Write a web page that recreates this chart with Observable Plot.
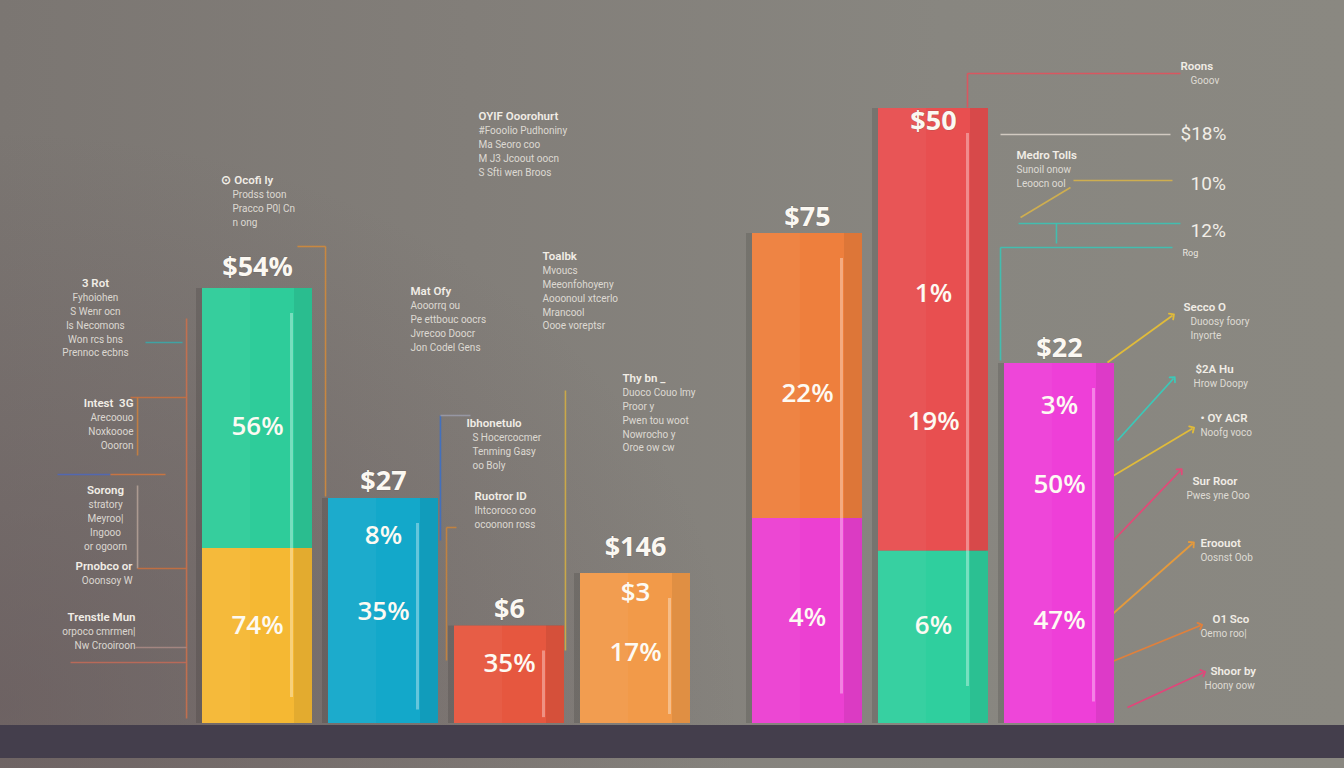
<!DOCTYPE html>
<html>
<head>
<meta charset="utf-8">
<script src="https://cdn.jsdelivr.net/npm/d3@7"></script>
<script src="https://cdn.jsdelivr.net/npm/@observablehq/plot@0.6"></script>
<style>
html, body { margin: 0; padding: 0; width: 1344px; height: 768px; overflow: hidden; }
body {
  background:
    radial-gradient(ellipse 55% 75% at 0% 92%, rgba(98,82,86,0.55), rgba(98,82,86,0) 100%),
    linear-gradient(to right, #7b7672 0%, #827e79 35%, #888680 70%, #8a8881 100%);
}
#chart svg { display: block; }
</style>
</head>
<body>
<div id="chart"></div>
<script>
// ---------- data ----------
const categories  = ["Q1", "Q2", "Q3", "Q4", "Q5", "Q6", "Q7"];
const groups      = ["A", "A", "A", "A", "B", "B", "B"];
const lowerValues = [35, 45, 19.5, 30, 41, 34.5, 72];
const upperValues = [52, 0, 0, 0, 57, 88.5, 0];
const topLabels   = ["$54%", "$27", "$6", "$146", "$75", "$50", "$22"];
const innerLabels = [["56%", "74%"], ["8%", "35%"], ["35%"], ["$3", "17%"], ["22%", "4%"], ["1%", "19%", "6%"], ["3%", "50%", "47%"]];

// ---------- layout / style (kept apart from the data) ----------
const groupGap = 0.365;
const lowerColors = ["#f5b833", "#13a8ca", "#e6573f", "#f29a49", "#ec40d2", "#2fcf9e", "#ee3fd8"];
const upperColors = ["#2ecc9a", null, null, null, "#ee7f3d", "#e84f50", null];
const topLabelAt   = [91.2, 48.4, 22.8, 35.2, 101.2, 120.4, 75];
const innerLabelAt = [[59.4, 19.6], [37.6, 22.4], [12], [26.2, 14.2], [66, 21.2], [86, 60.4, 19.6], [63.6, 47.8, 20.6]];

const notes = [
  {x: 0.214, bx: 0.302, y: 108.6, anchor: "start", title: "\u2299 Ocofi ly", body: ["Prodss toon", "Pracco P0| Cn", "n ong"]},
  {x: -0.786, y: 88, anchor: "middle", title: "3 Rot", body: ["Fyhoiohen", "S Wenr ocn", "ls Necomons", "Won rcs bns", "Prennoc ecbns"]},
  {x: -0.484, y: 64, anchor: "end", title: "Intest  3G", body: ["Arecoouo", "Noxkoooe", "Oooron"]},
  {x: -0.706, y: 46.6, anchor: "middle", title: "Sorong", body: ["stratory", "Meyroo|", "Ingooo", "or ogoorn"]},
  {x: -0.492, y: 31.4, anchor: "end", title: "Prnobco or", body: ["Ooonsoy W"]},
  {x: -0.468, y: 21.2, anchor: "end", title: "Trenstle Mun", body: ["orpoco cmrmen|", "Nw Crooiroon"]},
  {x: 2.254, y: 121.4, anchor: "start", title: "OYIF Ooorohurt", body: ["#Fooolio Pudhoniny", "Ma Seoro coo", "M J3 Jcoout oocn", "S Sfti wen Broos"]},
  {x: 1.714, y: 86.4, anchor: "start", title: "Mat Ofy", body: ["Aooorrq ou", "Pe ettbouc oocrs", "Jvrecoo Doocr", "Jon Codel Gens"]},
  {x: 2.762, y: 93.4, anchor: "start", title: "Toalbk", body: ["Mvoucs", "Meeonfohoyeny", "Aooonoul xtcerlo", "Mrancool", "Oooe voreptsr"]},
  {x: 3.397, y: 69, anchor: "start", title: "Thy bn _", body: ["Duoco Couo lmy", "Proor y", "Pwen tou woot", "Nowrocho y", "Oroe ow cw"]},
  {x: 2.159, bx: 2.206, y: 60, anchor: "start", title: "Ibhonetulo", body: ["S Hocercocmer", "Tenming Gasy", "oo Boly"]},
  {x: 2.222, y: 45.4, anchor: "start", title: "Ruotror ID", body: ["Ihtcoroco coo", "ocoonon ross"]},
  {x: 7.825, bx: 7.905, y: 131.4, anchor: "start", title: "Roons", body: ["Gooov"]},
  {x: 6.524, y: 113.6, anchor: "start", title: "Medro Tolls", body: ["Sunoil onow", "Leoocn ool"]},
  {x: 7.849, bx: 7.905, y: 83.2, anchor: "start", title: "Secco O", body: ["Duoosy foory", "Inyorte"]},
  {x: 7.944, bx: 7.929, y: 70.8, anchor: "start", title: "$2A Hu", body: ["Hrow Doopy"]},
  {x: 7.984, y: 61, anchor: "start", title: "\u2022 OY ACR", body: ["Noofg voco"]},
  {x: 7.921, bx: 7.873, y: 48.4, anchor: "start", title: "Sur Roor", body: ["Pwes yne Ooo"]},
  {x: 7.984, y: 36, anchor: "start", title: "Eroouot", body: ["Oosnst Oob"]},
  {x: 8.079, bx: 7.984, y: 20.8, anchor: "start", title: "O1 Sco", body: ["Oemo roo|"]},
  {x: 8.063, bx: 8.016, y: 10.4, anchor: "start", title: "Shoor by", body: ["Hoony oow"]}
];
const bigNotes = [
  {x: 7.825, y: 118, text: "$18%"},
  {x: 7.905, y: 108, text: "10%"},
  {x: 7.905, y: 98.6, text: "12%"}
];
const smallNotes = [{x: 7.841, y: 94, text: "Rog"}];

const leaders = [
  {x1: 0.817, y1: 95.4, x2: 1.040, y2: 95.4, c: "#d08a3c"},
  {x1: 1.040, y1: 95.4, x2: 1.040, y2: 45.4, c: "#d08a3c"},
  {x1: -0.063, y1: 81, x2: -0.063, y2: 1, c: "#c9704c"},
  {x1: -0.389, y1: 76.2, x2: -0.095, y2: 76.2, c: "#3aa7a8"},
  {x1: -0.508, y1: 65.2, x2: -0.063, y2: 65.2, c: "#c8703f"},
  {x1: -0.452, y1: 65.2, x2: -0.452, y2: 53.6, c: "#c8803f"},
  {x1: -1.087, y1: 49.8, x2: -0.667, y2: 49.8, c: "#4f68b8"},
  {x1: -0.667, y1: 49.8, x2: -0.230, y2: 49.8, c: "#d0753e"},
  {x1: -0.452, y1: 47.6, x2: -0.452, y2: 31, c: "#b3a096"},
  {x1: -0.452, y1: 31, x2: -0.063, y2: 31, c: "#c8703f"},
  {x1: -0.468, y1: 15.2, x2: -0.063, y2: 15.2, c: "#a88a84"},
  {x1: -0.984, y1: 12.2, x2: -0.063, y2: 12.2, c: "#c06a58"},
  {x1: 1.952, y1: 61.6, x2: 1.952, y2: 36.6, c: "#3d6fc4"},
  {x1: 1.952, y1: 61.6, x2: 2.190, y2: 61.6, c: "#9a9aa8"},
  {x1: 2.000, y1: 39.2, x2: 2.000, y2: 12.6, c: "#c8843c"},
  {x1: 2.000, y1: 39.2, x2: 2.079, y2: 39.2, c: "#c8843c"},
  {x1: 2.944, y1: 66.6, x2: 2.944, y2: 14.6, c: "#d2ad45"},
  {x1: 6.135, y1: 130, x2: 7.825, y2: 130, c: "#e2525c"},
  {x1: 6.135, y1: 130, x2: 6.135, y2: 123.2, c: "#e2525c"},
  {x1: 6.397, y1: 117.8, x2: 7.746, y2: 117.8, c: "#d9d2c8"},
  {x1: 6.976, y1: 108.6, x2: 7.762, y2: 108.6, c: "#d6b24a"},
  {x1: 6.556, y1: 101.2, x2: 6.952, y2: 107.2, c: "#d6b24a"},
  {x1: 6.540, y1: 100, x2: 7.825, y2: 100, c: "#3cc3b4"},
  {x1: 6.841, y1: 100, x2: 6.841, y2: 96, c: "#3cc3b4"},
  {x1: 6.397, y1: 95.2, x2: 7.762, y2: 95.2, c: "#3cc3b4"},
  {x1: 6.397, y1: 95.2, x2: 6.397, y2: 72.6, c: "#3cc3b4"}
];
const arrows = [
  {x1: 7.246, y1: 72.2, x2: 7.762, y2: 81.6, c: "#e0bb3a"},
  {x1: 7.325, y1: 56.6, x2: 7.770, y2: 69, c: "#3cc8b8"},
  {x1: 7.230, y1: 48.6, x2: 7.921, y2: 59, c: "#e0bb3a"},
  {x1: 7.270, y1: 36, x2: 7.825, y2: 50.6, c: "#e24a78"},
  {x1: 7.246, y1: 21, x2: 7.921, y2: 36, c: "#e59a3c"},
  {x1: 7.246, y1: 12, x2: 7.984, y2: 19.6, c: "#e0803c"},
  {x1: 7.405, y1: 3.2, x2: 8.008, y2: 10.2, c: "#e2457a"}
];

// ---------- tables built from the arrays ----------
const slot = categories.map((c, i) => i + (groups[i] === "B" ? groupGap : 0));
const segments = categories.flatMap((c, i) => {
  const rows = [{p: slot[i], c, y1: 0, y2: lowerValues[i], fill: lowerColors[i]}];
  if (upperValues[i] > 0) rows.push({p: slot[i], c, y1: lowerValues[i], y2: lowerValues[i] + upperValues[i], fill: upperColors[i]});
  return rows;
});
const totals = categories.map((c, i) => ({p: slot[i], c, total: lowerValues[i] + upperValues[i]}));
const topRows = categories.map((c, i) => ({p: slot[i], text: topLabels[i], y: topLabelAt[i]}));
const innerRows = categories.flatMap((c, i) => innerLabels[i].map((t, j) => ({p: slot[i], text: t, y: innerLabelAt[i][j]})));

const inset = 8;
const noteFont = "Roboto, 'Liberation Sans', sans-serif";
const noteFill = "#ebe7e0";

function noteMarks(anchor) {
  const rows = notes.filter(d => d.anchor === anchor);
  return [
    Plot.text(rows, {x: "x", y: "y", text: "title", textAnchor: anchor, lineAnchor: "middle",
      fontSize: 11.5, fontWeight: 600, fill: "#f1ede6", fontFamily: noteFont}),
    Plot.text(rows, {x: d => d.bx ?? d.x, y: "y", text: d => d.body.join("\n"), textAnchor: anchor,
      lineAnchor: "top", dy: 8, lineHeight: 1.38, fontSize: 10, fill: noteFill, fillOpacity: 0.88, fontFamily: noteFont})
  ];
}

const chart = Plot.plot({
  width: 1344,
  height: 768,
  marginTop: 0, marginRight: 0, marginBottom: 45, marginLeft: 0,
  x: {domain: [-1.5397, 9.1270], axis: null},
  y: {domain: [0, 144.6], axis: null},
  color: {type: "identity"},
  style: {background: "transparent", overflow: "visible", fontFamily: "'Open Sans', sans-serif"},
  marks: [
    // baseline band
    Plot.ruleY([0], {stroke: "#443e4c", strokeWidth: 33, dy: 18}),
    // leader lines
    Plot.link(leaders, {x1: "x1", y1: "y1", x2: "x2", y2: "y2", stroke: "c", strokeWidth: 1.6, strokeOpacity: 0.9}),
    Plot.link(arrows, {x1: "x1", y1: "y1", x2: "x2", y2: "y2", stroke: "c", strokeWidth: 1.8, markerEnd: "arrow"}),
    // bar shadows
    Plot.rectY(totals, {x1: "p", x2: d => d.p + 1, y1: 0, y2: "total", fill: "#000", fillOpacity: 0.12,
      insetLeft: inset - 6, insetRight: inset + 2}),
    // stacked bars
    Plot.rectY(segments, {x1: "p", x2: d => d.p + 1, y1: "y1", y2: "y2", fill: "fill",
      insetLeft: inset, insetRight: inset}),
    // right-edge shading
    Plot.rectY(segments, {x1: "p", x2: d => d.p + 1, y1: "y1", y2: "y2", fill: "#000", fillOpacity: 0.07,
      insetLeft: inset + 92, insetRight: inset}),
    // left-part light shading
    Plot.rectY(segments, {x1: "p", x2: d => d.p + 1, y1: "y1", y2: "y2", fill: "#fff", fillOpacity: 0.04,
      insetLeft: inset, insetRight: inset + 62}),
    // glossy stripe
    Plot.ruleX(totals, {x: d => d.p + 0.5, y1: d => d.total * 0.06, y2: d => d.total - 5, dx: 34,
      stroke: "#ffffff", strokeOpacity: 0.35, strokeWidth: 3}),
    // value labels
    Plot.text(topRows, {x: d => d.p + 0.5, y: "y", text: "text", fill: "#fbf8f2", fontSize: 27, fontWeight: 700,
      stroke: "#5a524e", strokeWidth: 1, strokeOpacity: 0.35, paintOrder: "stroke"}),
    Plot.text(innerRows, {x: d => d.p + 0.5, y: "y", text: "text", fill: "#fdfaf3", fontSize: 26, fontWeight: 600}),
    // annotation texts
    ...noteMarks("start"),
    ...noteMarks("middle"),
    ...noteMarks("end"),
    Plot.text(bigNotes, {x: "x", y: "y", text: "text", textAnchor: "start", fontSize: 19, fill: "#f1ede6", fontFamily: noteFont}),
    Plot.text(smallNotes, {x: "x", y: "y", text: "text", textAnchor: "start", fontSize: 9, fill: noteFill, fontFamily: noteFont})
  ]
});

document.getElementById("chart").append(chart);
</script>
</body>
</html>
